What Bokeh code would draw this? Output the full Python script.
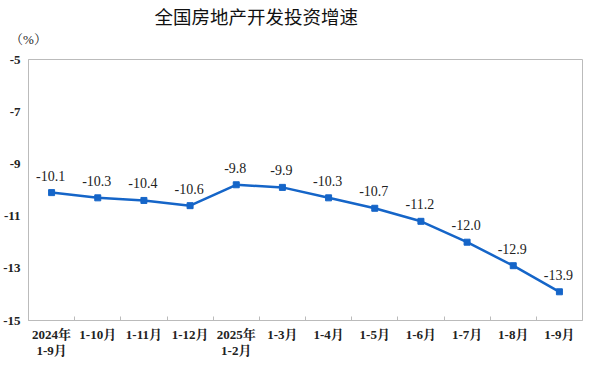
from bokeh.plotting import figure
from bokeh.models import ColumnDataSource, FixedTicker, Title, Range1d, LinearAxis
from bokeh.embed import file_html
from bokeh.resources import INLINE

categories = ["2024年", "1-10月", "1-11月", "1-12月", "2025年", "1-3月",
              "1-4月", "1-5月", "1-6月", "1-7月", "1-8月", "1-9月"]
second_line = {0: "1-9月", 4: "1-2月"}
values = [-10.1, -10.3, -10.4, -10.6, -9.8, -9.9, -10.3, -10.7, -11.2, -12.0, -12.9, -13.9]
y_ticks = [-5, -7, -9, -11, -13, -15]
y_tick_labels = ["-5", "-7", "-9", "-11", "-13", "-15"]
unit_label = "（%）"

SERIF = "'Liberation Serif', 'Times New Roman', 'Noto Serif CJK SC', 'Noto Sans CJK SC', serif"
BLUE = "#1565C8"

xs = [i + 0.5 for i in range(len(categories))]
src = ColumnDataSource(dict(x=xs, y=values, lbl=[f"{v:.1f}" for v in values]))

p = figure(width=584, height=360, output_backend="svg", toolbar_location=None,
           x_range=Range1d(0, len(categories)), y_range=Range1d(-15, -5))
p.min_border_left = 26
p.min_border_right = 2
p.min_border_bottom = 0
p.min_border_top = 0

xa = p.below[0]
ya = p.left[0]

def bare_axis(ax, size="13px", bold=True):
    ax.major_tick_line_color = None
    ax.major_tick_in = 0
    ax.major_tick_out = 0
    ax.minor_tick_line_color = None
    ax.minor_tick_in = 0
    ax.minor_tick_out = 0
    ax.major_label_text_font = SERIF
    ax.major_label_text_font_size = size
    ax.major_label_text_font_style = "bold" if bold else "normal"
    ax.major_label_text_color = "#222222"
    ax.axis_label_standoff = 0

# unit label above the frame's left edge
xu = LinearAxis(ticker=FixedTicker(ticks=[0], minor_ticks=[]),
                major_label_overrides={0: unit_label})
bare_axis(xu, bold=False)
xu.axis_line_color = None
xu.major_label_standoff = 13
p.add_layout(xu, "above")

p.add_layout(Title(text="全国房地产开发投资增速", align="left", offset=126,
                   text_font="'Noto Sans CJK SC', sans-serif", text_font_size="18.5px",
                   text_font_style="normal", text_color="#111111", standoff=0), "above")

p.line("x", "y", source=src, line_color=BLUE, line_width=2.5)
p.scatter("x", "y", source=src, marker="square", size=6, fill_color=BLUE, line_color=BLUE)
p.text("x", "y", text="lbl", source=src, text_align="center", text_baseline="bottom",
       y_offset=-12, x_offset=-1, text_font=SERIF, text_font_size="14px", text_color="#222222")

p.xgrid.visible = False
p.ygrid.visible = False
p.outline_line_color = "#BBBBBB"
p.outline_line_width = 1

xa.ticker = FixedTicker(ticks=xs, minor_ticks=list(range(1, len(categories))))
xa.major_label_overrides = {x: c for x, c in zip(xs, categories)}
bare_axis(xa)
xa.minor_tick_in = 4
xa.minor_tick_out = 0
xa.minor_tick_line_color = "#BBBBBB"
xa.axis_line_color = "#BBBBBB"
xa.major_label_standoff = 6
xa.major_label_text_line_height = 0.9

xb = LinearAxis(ticker=FixedTicker(ticks=[xs[i] for i in second_line], minor_ticks=[]),
                major_label_overrides={xs[i]: t for i, t in second_line.items()})
bare_axis(xb)
xb.axis_line_color = None
xb.major_label_standoff = -2
xb.major_label_text_line_height = 0.9
p.add_layout(xb, "below")

ya.ticker = FixedTicker(ticks=y_ticks)
ya.major_label_overrides = {t: l for t, l in zip(y_ticks, y_tick_labels)}
bare_axis(ya)
ya.axis_line_color = "#BBBBBB"
ya.major_label_standoff = 8

open("out.html", "w").write(file_html(p, INLINE))
